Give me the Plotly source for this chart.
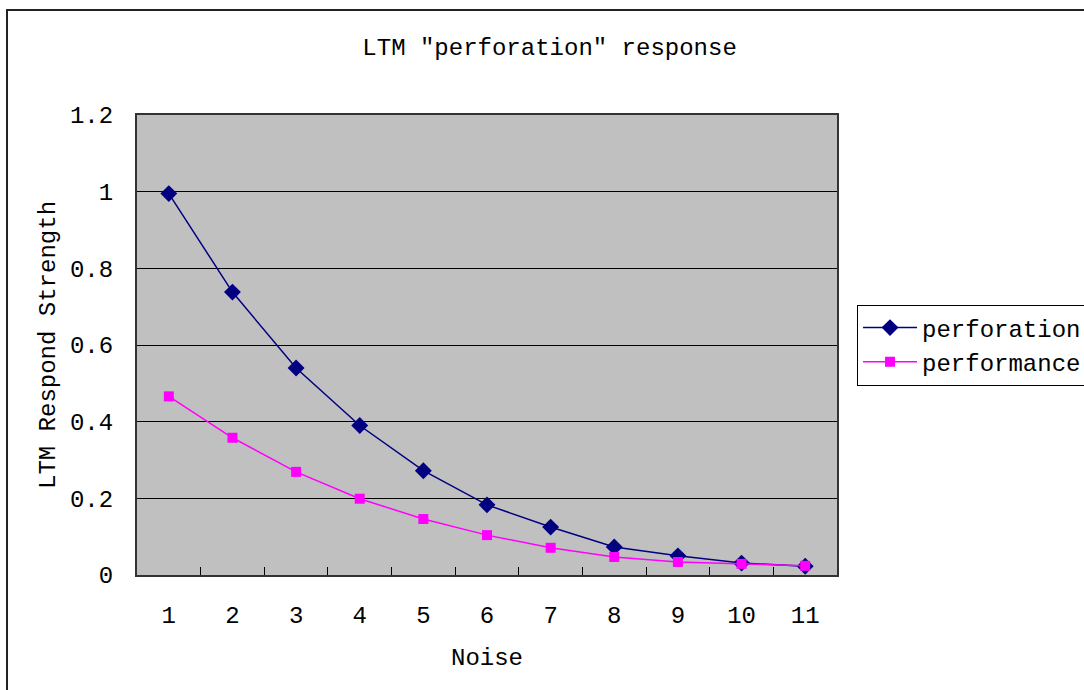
import plotly.graph_objects as go

noise = ["1", "2", "3", "4", "5", "6", "7", "8", "9", "10", "11"]
perforation = [0.995, 0.738, 0.540, 0.390, 0.272, 0.183, 0.125, 0.073, 0.050, 0.031, 0.023]
performance = [0.466, 0.358, 0.269, 0.199, 0.146, 0.104, 0.071, 0.047, 0.034, 0.029, 0.024]
y_ticks = [0, 0.2, 0.4, 0.6, 0.8, 1, 1.2]
y_tick_text = ["0", "0.2", "0.4", "0.6", "0.8", "1", "1.2"]

FONT = "Liberation Mono"

fig = go.Figure()
fig.add_trace(go.Scatter(
    x=noise, y=perforation, name="perforation", mode="lines+markers",
    line=dict(color="#000080", width=1.5),
    marker=dict(symbol="diamond", size=13, color="#000080"),
))
fig.add_trace(go.Scatter(
    x=noise, y=performance, name="performance", mode="lines+markers",
    line=dict(color="#FF00FF", width=1.5),
    marker=dict(symbol="square", size=10, color="#FF00FF"),
))

fig.update_layout(
    width=1084, height=690,
    margin=dict(l=137, r=247, t=115, b=115, autoexpand=False),
    paper_bgcolor="white", plot_bgcolor="#C0C0C0",
    font=dict(family=FONT, size=24, color="black"),
    title=dict(text='LTM "perforation" response', x=0.507, xanchor="center",
               y=0.932, yanchor="middle", font=dict(family=FONT, size=24)),
    legend=dict(x=1.0286, xanchor="left", y=0.5, yanchor="middle",
                bordercolor="black", borderwidth=1, bgcolor="white",
                font=dict(family=FONT, size=24), tracegroupgap=0,
                itemwidth=54),
    xaxis=dict(type="category", range=[-0.5, 10.5], tickson="boundaries",
               ticks="inside", ticklen=8, tickcolor="black", tickwidth=1,
               showgrid=False, showline=True, linecolor="#333333", linewidth=2,
               mirror=True, ticklabelstandoff=17,
               title=dict(text="Noise", standoff=19, font=dict(size=24))),
    yaxis=dict(range=[0, 1.2], tickvals=y_ticks, ticktext=y_tick_text,
               ticks="inside", ticklen=8, tickcolor="black",
               showgrid=True, gridcolor="black", gridwidth=1,
               showline=True, linecolor="#333333", linewidth=2, mirror=True,
               zeroline=False, ticklabelstandoff=17,
               title=dict(text="LTM Respond Strength", standoff=8, font=dict(size=24))),
    shapes=[dict(type="rect", xref="paper", yref="paper",
                 x0=-0.1857, x1=1.37, y0=-0.27, y1=1.2283,
                 line=dict(color="#222222", width=2), layer="below")],
)

fig.write_html("out.html")
